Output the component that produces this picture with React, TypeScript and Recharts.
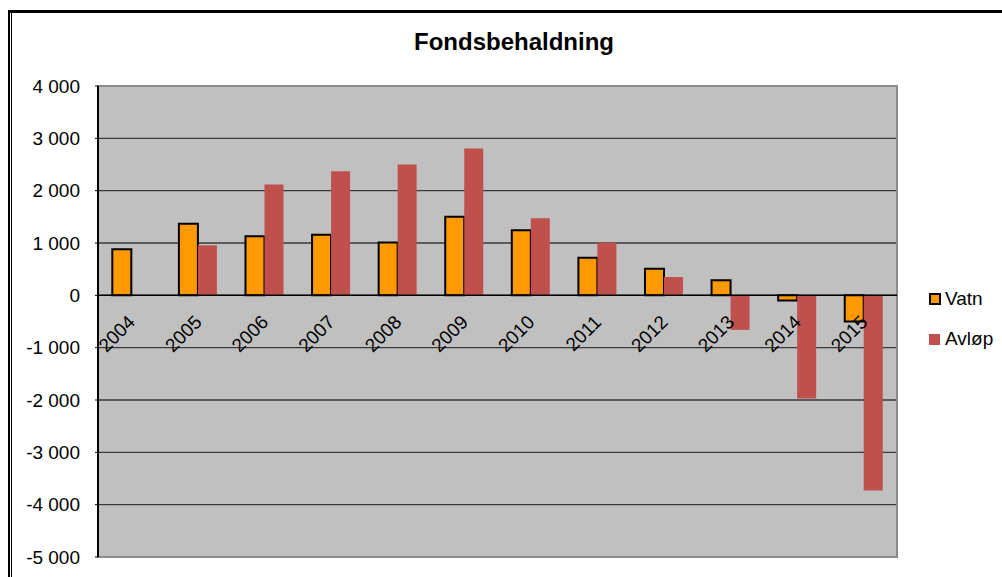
import { BarChart, Bar, XAxis, YAxis, CartesianGrid, ReferenceLine, ReferenceArea } from 'recharts';

const years = ['2004', '2005', '2006', '2007', '2008', '2009', '2010', '2011', '2012', '2013', '2014', '2015'];
const vatn = [880, 1370, 1130, 1160, 1010, 1500, 1245, 720, 510, 290, -100, -500];
const avlop = [0, 955, 2120, 2370, 2500, 2805, 1475, 1005, 350, -660, -1970, -3730];
const yTicks = [4000, 3000, 2000, 1000, 0, -1000, -2000, -3000, -4000, -5000];

const W = 1002;
const H = 577;
const M = { top: 86, right: 105, bottom: 19, left: 0 };
const Y_MIN = -5000;
const Y_MAX = 4000;
const plotH = H - M.top - M.bottom - 1;
const zeroY = M.top + (plotH * Y_MAX) / (Y_MAX - Y_MIN);

const font = '"Liberation Sans", Arial, sans-serif';

const data = years.map((y, i) => ({ year: y, Vatn: vatn[i], Avløp: avlop[i] }));

const fmt = (v: number) => {
  if (v === 0) return '0';
  const s = Math.abs(v).toString().replace(/\B(?=(\d{3})+(?!\d))/g, ' ');
  return (v < 0 ? '-' : '') + s;
};

function renderXTick(props: any) {
  const { x, payload } = props;
  const ax = x + 5;
  const ay = zeroY + 28;
  return (
    <text
      x={ax}
      y={ay}
      transform={`rotate(-45 ${ax} ${ay})`}
      textAnchor="end"
      fontSize={19}
      fontFamily={font}
      fill="#000"
    >
      {payload.value}
    </text>
  );
}

export default function App() {
  return (
    <div style={{ position: 'absolute', left: 0, top: 0, width: W, height: H, background: '#fff', overflow: 'hidden', fontFamily: font }}>
      {/* ramme */}
      <div style={{ position: 'absolute', left: 8, top: 10, width: W, height: 3, background: '#000' }} />
      <div style={{ position: 'absolute', left: 8, top: 10, width: 2, height: H, background: '#000' }} />
      <div style={{ position: 'absolute', left: 11, top: 13, width: 1, height: H, background: '#000' }} />

      <div style={{ position: 'absolute', left: 0, top: 28, width: 1028, textAlign: 'center', fontSize: 24, fontWeight: 'bold', color: '#000' }}>
        Fondsbehaldning
      </div>

      <BarChart width={W} height={H} data={data} margin={M} barCategoryGap="21.5%" barGap={0}>
        <CartesianGrid horizontal vertical={false} fill="#C0C0C0" stroke="#3a3a3a" strokeWidth={1.3} />
        <ReferenceArea y1={Y_MIN} y2={Y_MAX} fill="none" stroke="#8c8c8c" strokeWidth={2} ifOverflow="visible" />
        <XAxis dataKey="year" height={1} axisLine={false} tickLine={false} tick={renderXTick} interval={0} />
        <YAxis
          domain={[Y_MIN, Y_MAX]}
          ticks={yTicks}
          interval={0}
          width={98}
          tickFormatter={fmt}
          tick={{ fontSize: 19, fill: '#000', fontFamily: font }}
          axisLine={{ stroke: '#000', strokeWidth: 2 }}
          tickLine={{ stroke: '#000' }}
          tickSize={3}
          tickMargin={15}
        />
        <ReferenceLine y={0} stroke="#000" strokeWidth={1.5} />
        <Bar dataKey="Vatn" fill="#FF9900" stroke="#000" strokeWidth={2} isAnimationActive={false} />
        <Bar dataKey="Avløp" fill="#C0504D" isAnimationActive={false} />
      </BarChart>

      {/* legende */}
      <div style={{ position: 'absolute', left: 929, top: 288, fontSize: 19, color: '#000', lineHeight: '22px' }}>
        <div style={{ display: 'flex', alignItems: 'center', height: 22 }}>
          <span style={{ display: 'inline-block', width: 8, height: 8, background: '#FF9900', border: '2px solid #000', marginRight: 4 }} />
          Vatn
        </div>
        <div style={{ display: 'flex', alignItems: 'center', height: 22, marginTop: 18 }}>
          <span style={{ display: 'inline-block', width: 11, height: 11, background: '#C0504D', marginRight: 5 }} />
          Avløp
        </div>
      </div>
    </div>
  );
}
